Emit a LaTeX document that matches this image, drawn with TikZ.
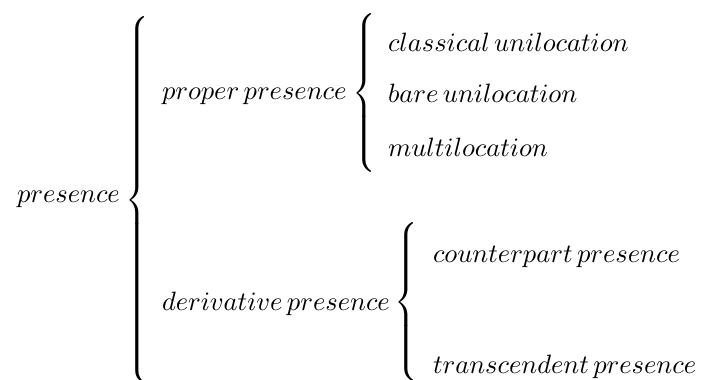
\documentclass[tikz,border=0pt]{standalone}
\tikzset{
  lbl/.style={anchor=base west, inner sep=0pt, outer sep=0pt},
  brc/.style={anchor=west, inner sep=0pt, outer sep=0pt}
}
\newcommand\mybrace[1]{{\delimitershortfall=0pt\delimiterfactor=1000 $\left\{\vcenter{\hbox{\rule{0pt}{#1}}}\right.$}}
\begin{document}
\begin{tikzpicture}[x=0.377pt,y=-0.377pt]
\useasboundingbox (0,0) rectangle (702,380);
\node[lbl] (p) at (17,203) {$presence$};
\node[brc] (b0) at (125,200) {\mybrace{136pt}};
\node[lbl] (pp) at (162,100) {$proper\,presence$};
\node[brc] (b1) at (352,93) {\mybrace{60pt}};
\node[lbl] (cu) at (388,52) {$classical\,unilocation$};
\node[lbl] (bu) at (388,103) {$bare\,unilocation$};
\node[lbl] (ml) at (388,157) {$multilocation$};
\node[lbl] (dp) at (162,311) {$derivative\,presence$};
\node[brc] (b2) at (394,302) {\mybrace{57pt}};
\node[lbl] (cp) at (433,263) {$counterpart\,presence$};
\node[lbl] (tp) at (433,373) {$transcendent\,presence$};
\end{tikzpicture}
\end{document}
